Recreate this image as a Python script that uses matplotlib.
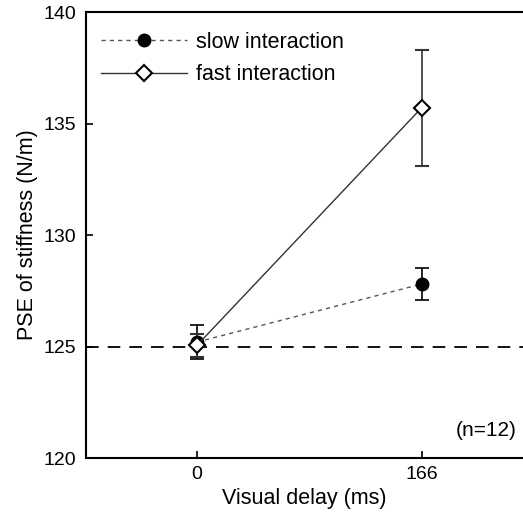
import matplotlib
matplotlib.use("Agg")
import matplotlib.pyplot as plt

plt.rcParams['font.family'] = ['Liberation Sans', 'DejaVu Sans']

delays = [0, 166]
slow_mean = [125.2, 127.8]
slow_err = [0.75, 0.7]
fast_mean = [125.05, 135.7]
fast_err = [0.5, 2.6]
baseline = 125
yticks = [120, 125, 130, 135, 140]

fig = plt.figure(figsize=(5.23, 5.18), dpi=100)
ax = fig.add_axes([0.1644, 0.1158, 0.8356, 0.861])

ax.axhline(baseline, color='black', lw=1.3, ls=(0, (7, 5)), zorder=1)

ax.errorbar(delays, slow_mean, yerr=slow_err, color='#555555', ls=(0, (3, 3)), lw=1.0,
            marker='o', ms=9, mfc='black', mec='black', ecolor='black', elinewidth=1.2,
            capsize=5, capthick=1.2, label='slow interaction', zorder=3)
ax.errorbar(delays, fast_mean, yerr=fast_err, color='#333333', ls='-', lw=1.0,
            marker='D', ms=8, mfc='white', mec='black', mew=1.5, ecolor='#333333', elinewidth=1.2,
            capsize=5, capthick=1.2, label='fast interaction', zorder=4)

ax.set_xlim(-82, 241)
ax.set_ylim(120, 140)
ax.set_xticks(delays)
ax.set_yticks(yticks)
ax.tick_params(direction='in', length=5, width=1.2, labelsize=14, pad=7)
ax.tick_params(axis='x', pad=6)
ax.spines['right'].set_visible(False)
for s in ['left', 'bottom', 'top']:
    ax.spines[s].set_linewidth(1.5)

ax.set_xlabel('Visual delay (ms)', fontsize=15.5, labelpad=3)
ax.set_ylabel('PSE of stiffness (N/m)', fontsize=15.5, labelpad=4)

ax.text(0.985, 0.04, '(n=12)', transform=ax.transAxes, ha='right', va='bottom', fontsize=15)

handles, labels = ax.get_legend_handles_labels()
handles = [h[0] for h in handles]
leg = ax.legend(handles, labels, loc='upper left', frameon=False, fontsize=15.5,
                handlelength=4.0, handletextpad=0.4, labelspacing=0.55,
                borderaxespad=0.3, bbox_to_anchor=(0.0, 0.99))

fig.savefig('out.png', dpi=100)
